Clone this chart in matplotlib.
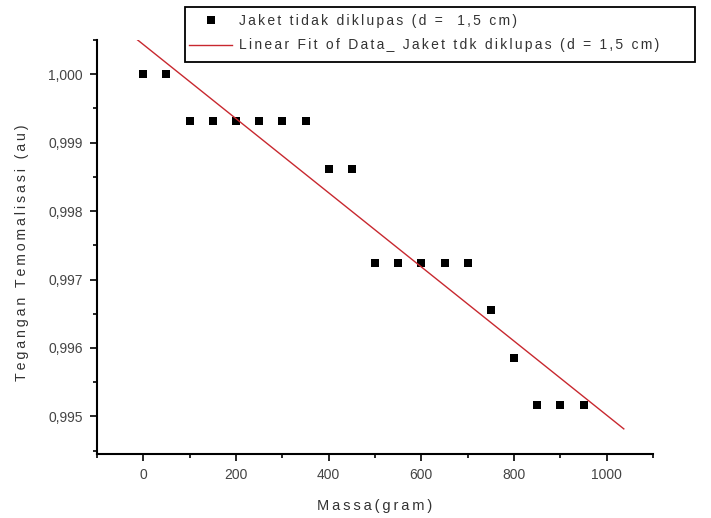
import numpy as np
import matplotlib
matplotlib.use("Agg")
import matplotlib.pyplot as plt
from matplotlib.patches import Rectangle
from matplotlib.ticker import MultipleLocator, FuncFormatter

# Measured data: mass (gram) vs normalised voltage
massa = [0, 50, 100, 150, 200, 250, 300, 350, 400, 450,
         500, 550, 600, 650, 700, 750, 800, 850, 900, 950]
tegangan = [1.00000, 1.00000, 0.99931, 0.99931, 0.99931, 0.99931, 0.99931, 0.99931,
            0.99862, 0.99862, 0.99724, 0.99724, 0.99724, 0.99724, 0.99724,
            0.99655, 0.99586, 0.99517, 0.99517, 0.99517]

label_data = "Jaket tidak diklupas (d =  1,5 cm)"
label_fit = "Linear Fit of Data_ Jaket tdk diklupas (d = 1,5 cm)"
label_x = "Massa(gram)"
label_y = "Tegangan Temomalisasi (au)"

plt.rcParams['font.family'] = ['Liberation Sans', 'DejaVu Sans']


def spaced(text, gap):
    """Open up the letter spacing by putting a narrow space between characters."""
    return gap.join(text)


THIN = "\u2009"
SIXTH = "\u2006"

W, H = 711, 518
fig = plt.figure(figsize=(W / 100, H / 100), dpi=100)
ax = fig.add_axes([97 / W, 1 - 454 / H, (653 - 97) / W, (454 - 40) / H])

# Least-squares fit
slope, intercept = np.polyfit(massa, tegangan, 1)
xfit = np.array([-60, 1037])
yfit = slope * xfit + intercept

ax.plot(massa, tegangan, linestyle='none', marker='s', markersize=6,
        markeredgewidth=0, color='black', label=spaced(label_data, SIXTH))
ax.plot(xfit, yfit, color='#c8282f', linewidth=1.0, label=spaced(label_fit, SIXTH))

ax.set_xlim(-100, 1100)
ax.set_ylim(0.99445, 1.0005)

ax.xaxis.set_major_locator(MultipleLocator(200))
ax.xaxis.set_minor_locator(MultipleLocator(100))
ax.yaxis.set_major_locator(MultipleLocator(0.001))
ax.yaxis.set_minor_locator(MultipleLocator(0.0005))
ax.yaxis.set_major_formatter(FuncFormatter(lambda v, p: f"{v:.3f}".replace('.', ',')))

for side in ('top', 'right'):
    ax.spines[side].set_visible(False)
for side in ('left', 'bottom'):
    ax.spines[side].set_linewidth(1.5)

ax.tick_params(which='major', direction='out', length=5, width=1.2,
               labelsize=10, labelcolor='#444444', pad=5)
ax.tick_params(which='minor', direction='out', length=3, width=1.2)

ax.set_xlabel(spaced(label_x, THIN), fontsize=10.5, color='#333333', labelpad=12)
ax.set_ylabel(spaced(label_y, THIN), fontsize=10.2, color='#333333')
ax.yaxis.set_label_coords((29 - 97) / 556, (454 - 253) / 414)

# Legend entries without their own frame; the box is drawn separately
leg = fig.legend(loc='upper left', bbox_to_anchor=(185 / W, 1 - 10 / H),
                 bbox_transform=fig.transFigure, frameon=False,
                 fontsize=10, handlelength=3.1,
                 borderpad=0.3, labelspacing=0.74, handletextpad=0.5,
                 borderaxespad=0)
for t in leg.get_texts():
    t.set_color('#333333')

box = Rectangle((185 / W, 1 - 62 / H), (695 - 185) / W, (62 - 7) / H,
                transform=fig.transFigure, fill=False, edgecolor='black',
                linewidth=1.3, zorder=5)
fig.add_artist(box)

fig.savefig("out.png", dpi=100)
